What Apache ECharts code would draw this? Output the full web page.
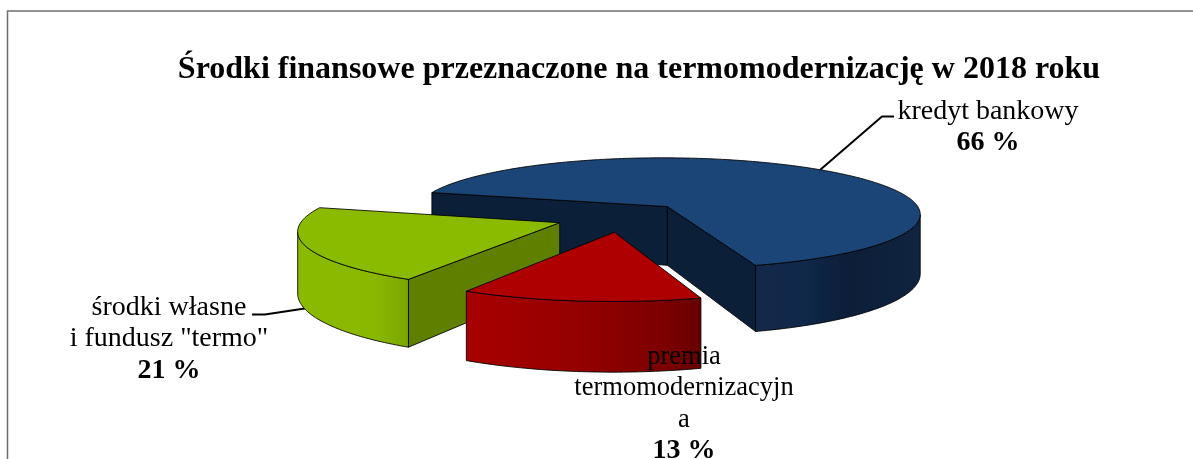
<!DOCTYPE html>
<html>
<head>
<meta charset="utf-8">
<style>
html,body{margin:0;padding:0;background:#fff;}
#main{width:1193px;height:459px;}
</style>
<script src="https://cdn.jsdelivr.net/npm/echarts@6/dist/echarts.min.js"></script>
</head>
<body>
<div id="main"></div>
<script>
// dane
var titleText = 'Środki finansowe przeznaczone na termomodernizację w 2018 roku';
var categories = ['kredyt bankowy', 'premia termomodernizacyjna', 'środki własne i fundusz "termo"'];
var values = [66, 13, 21];
var labelLines = [['kredyt bankowy'], ['premia', 'termomodernizacyjn', 'a'], ['środki własne', 'i fundusz "termo"']];

// wyglad
var fontName = '"Liberation Serif","Times New Roman",serif';
var topColors = ['#1c4577', '#ae0000', '#8bbb00'];
var sideColors = ['#0c1f39', '#000000', '#5f7f00'];
var arcStops = [
    [[0, '#14294a'], [0.3, '#10284a'], [0.55, '#0c1e38'], [1, '#10243f']],
    [[0, '#a80000'], [0.5, '#930000'], [0.85, '#7c0000'], [1, '#660000']],
    [[0, '#8aba00'], [0.7, '#8ab800'], [1, '#7aa400']]
];
var labelPos = [[988, 127], [684, 404], [169, 339]];
var labelSize = [28, 26.5, 28];
var leaderLines = [[[820, 170], [882, 116.5], [894, 116.5]], null, [[308, 308], [265, 314.5], [252, 314.5]]];

// geometria "3D"
var cx = 622, cy = 217;
var R = 256, T = 57, H = 60, persp = 0.12;
var explode = 0.26;
var firstAngle = 195.4;   // pierwszy wycinek zaczyna sie tutaj, zgodnie z ruchem wskazowek

function rad(a) { return a * Math.PI / 180; }

var total = values.reduce(function (s, v) { return s + v; }, 0);
var slices = [];
var acc = firstAngle;
values.forEach(function (v) {
    var sweep = v / total * 360;
    var mid = acc + sweep / 2;
    slices.push({
        a0: acc,
        a1: acc + sweep,
        mid: mid,
        ex: explode * Math.cos(rad(mid)),
        ez: explode * Math.sin(rad(mid))
    });
    acc += sweep;
});

// punkt wycinka po rzucie perspektywicznym
function project(sl, r, a, h) {
    var x = sl.ex + r * Math.cos(rad(a));
    var z = sl.ez + r * Math.sin(rad(a));
    var s = 1 / (1 - persp * z);
    return [cx + R * x * s, cy + (T * z + h) * s];
}

// czy sciana o normalnej (nx,nz) w punkcie (x,z) patrzy na obserwatora
function facing(nx, nz, x, z) {
    return nx * (0 - x) + nz * (1 / persp - z) > 0;
}

function arcAngles(sl) {
    var list = [];
    for (var a = sl.a0; a < sl.a1; a += 1) list.push(a);
    list.push(sl.a1);
    return list;
}

function renderSlice(params, api) {
    var i = api.value(0);
    var sl = slices[i];
    var base = 20 + Math.round(sl.ez * 30);
    var edge = 'rgba(0,0,0,0.85)';
    var children = [];

    function radial(a) {
        children.push({
            type: 'polygon',
            z2: base,
            shape: { points: [project(sl, 0, a, 0), project(sl, 1, a, 0), project(sl, 1, a, H), project(sl, 0, a, H)] },
            style: { fill: sideColors[i], stroke: edge, lineWidth: 1 }
        });
    }
    if (facing(Math.sin(rad(sl.a0)), -Math.cos(rad(sl.a0)), sl.ex, sl.ez)) radial(sl.a0);
    if (facing(-Math.sin(rad(sl.a1)), Math.cos(rad(sl.a1)), sl.ex, sl.ez)) radial(sl.a1);

    // sciana zewnetrzna, tylko widoczna czesc luku
    var upper = [], lower = [];
    arcAngles(sl).forEach(function (a) {
        var nx = Math.cos(rad(a)), nz = Math.sin(rad(a));
        if (facing(nx, nz, sl.ex + nx, sl.ez + nz)) {
            upper.push(project(sl, 1, a, 0));
            lower.unshift(project(sl, 1, a, H));
        }
    });
    if (upper.length > 1) {
        children.push({
            type: 'polygon',
            z2: base + 1,
            shape: { points: upper.concat(lower) },
            style: {
                fill: new echarts.graphic.LinearGradient(0, 0, 1, 0, arcStops[i].map(function (s) {
                    return { offset: s[0], color: s[1] };
                })),
                stroke: edge,
                lineWidth: 1
            }
        });
    }

    // gorna powierzchnia
    var top = [project(sl, 0, sl.a0, 0)];
    arcAngles(sl).forEach(function (a) {
        top.push(project(sl, 1, a, 0));
    });
    children.push({
        type: 'polygon',
        z2: base + 2,
        shape: { points: top },
        style: { fill: topColors[i], stroke: edge, lineWidth: 1 }
    });

    // linia odniesienia
    if (leaderLines[i]) {
        children.push({
            type: 'polyline',
            z2: 5,
            shape: { points: leaderLines[i] },
            style: { fill: 'none', stroke: '#000', lineWidth: 2 }
        });
    }

    // etykieta
    var txt = labelLines[i].map(function (l) { return '{n|' + l + '}'; }).join('\n') + '\n{b|' + api.value(1) + ' %}';
    children.push({
        type: 'text',
        z2: 100,
        x: labelPos[i][0],
        y: labelPos[i][1],
        style: {
            text: txt,
            align: 'center',
            verticalAlign: 'middle',
            rich: {
                n: { font: labelSize[i] + 'px ' + fontName, fill: '#000', lineHeight: 31.5, align: 'center' },
                b: { font: 'bold 28px ' + fontName, fill: '#000', lineHeight: 31.5, align: 'center' }
            }
        }
    });

    return { type: 'group', children: children };
}

var myChart = echarts.init(document.getElementById('main'), null, { renderer: 'canvas' });
var option = {
    animation: false,
    backgroundColor: '#fff',
    title: {
        text: titleText,
        left: 634,
        top: 49,
        textAlign: 'center',
        textStyle: { fontFamily: fontName, fontSize: 32, fontWeight: 'bold', color: '#000' }
    },
    graphic: [{
        type: 'polyline',
        silent: true,
        shape: { points: [[7.5, 459], [7.5, 11], [1193, 11]] },
        style: { fill: 'none', stroke: '#6e6e6e', lineWidth: 1.5 }
    }],
    series: [{
        type: 'custom',
        coordinateSystem: 'none',
        renderItem: renderSlice,
        data: values.map(function (v, i) { return { name: categories[i], value: [i, v] }; })
    }]
};
myChart.setOption(option);
</script>
</body>
</html>
